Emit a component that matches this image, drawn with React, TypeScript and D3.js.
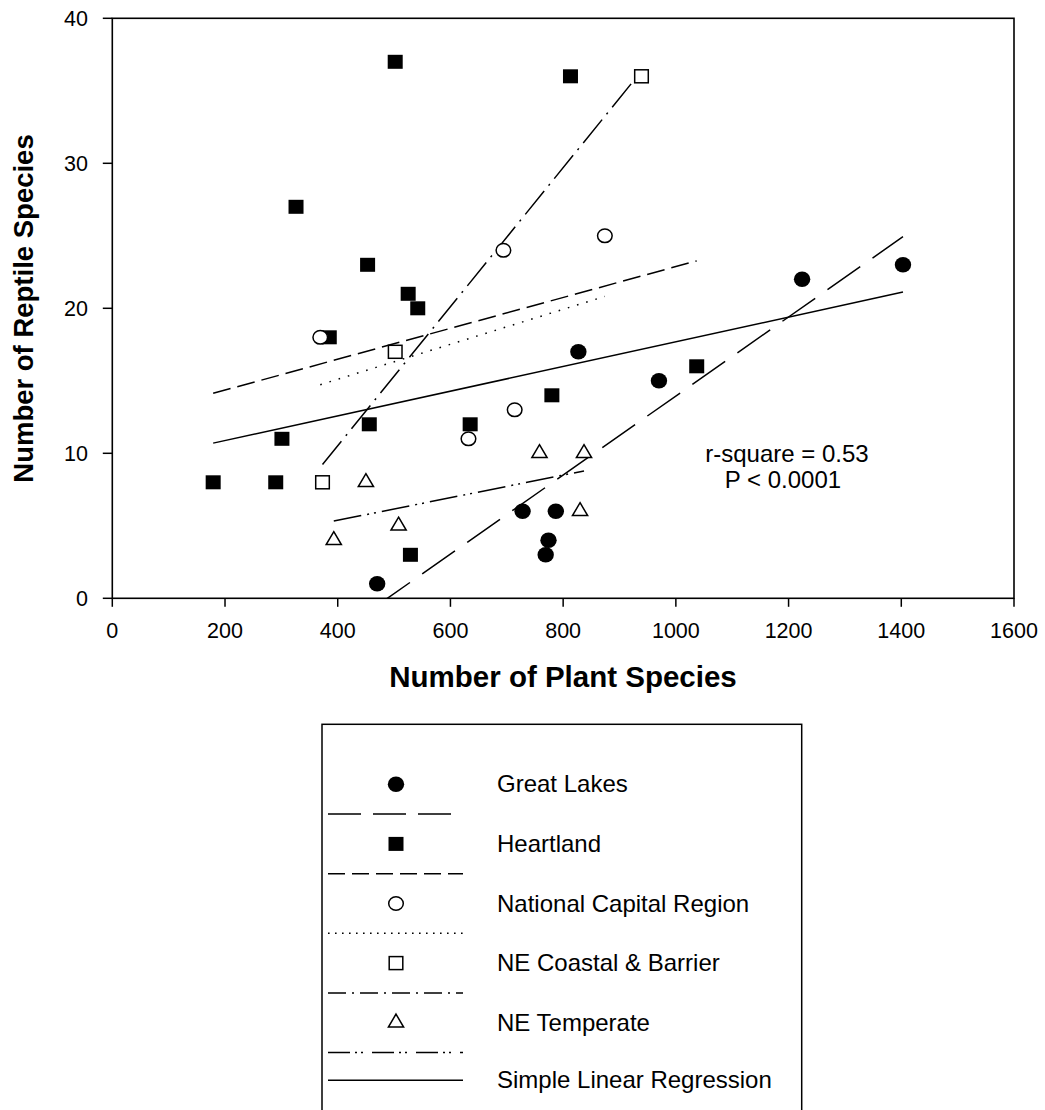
import React from "react";
import * as d3 from "d3";

type Pt = [number, number];

// Data (plants, reptiles) per region
const greatLakes: Pt[] = [
  [470, 1], [728, 6], [787, 6], [774, 4], [769, 3], [827, 17], [970, 15], [1224, 22], [1403, 23],
];
const heartland: Pt[] = [
  [502, 37], [326, 27], [453, 23], [525, 21], [542, 20], [385, 18], [456, 12], [301, 11],
  [179, 8], [290, 8], [529, 3], [635, 12], [780, 14], [1037, 16], [813, 36],
];
const nationalCapital: Pt[] = [
  [369, 18], [632, 11], [714, 13], [694, 24], [874, 25],
];
const neCoastal: Pt[] = [
  [373, 8], [502, 17], [939, 36],
];
const neTemperate: Pt[] = [
  [393, 4], [450, 8], [508, 5], [758, 10], [837, 10], [830, 6],
];

const seriesNames = [
  "Great Lakes",
  "Heartland",
  "National Capital Region",
  "NE Coastal & Barrier",
  "NE Temperate",
];
const overallName = "Simple Linear Regression";

const xTicks = [0, 200, 400, 600, 800, 1000, 1200, 1400, 1600];
const yTicks = [0, 10, 20, 30, 40];
const annotation = ["r-square = 0.53", "P < 0.0001"];

const FONT = "'Liberation Sans', Arial, Helvetica, sans-serif";

const x = d3.scaleLinear().domain([0, 1600]).range([112.3, 1014]);
const y = d3.scaleLinear().domain([0, 40]).range([598.3, 18.3]);

type MarkerKind = "filledCircle" | "filledSquare" | "openCircle" | "openSquare" | "openTriangle";

const styles: { data: Pt[]; marker: MarkerKind; dash: string; legendDash: string }[] = [
  { data: greatLakes, marker: "filledCircle", dash: "40,15", legendDash: "33,12" },
  { data: heartland, marker: "filledSquare", dash: "18,7", legendDash: "17,7" },
  { data: nationalCapital, marker: "openCircle", dash: "1.6,8", legendDash: "1.6,5.4" },
  { data: neCoastal, marker: "openSquare", dash: "30,7,2,7", legendDash: "18,6,2,6" },
  { data: neTemperate, marker: "openTriangle", dash: "28,6,2,5,2,6", legendDash: "22,5,2,4,2,9" },
];

function regression(pts: Pt[]) {
  const mx = d3.mean(pts, (p) => p[0]) as number;
  const my = d3.mean(pts, (p) => p[1]) as number;
  let sxy = 0;
  let sxx = 0;
  for (const p of pts) {
    sxy += (p[0] - mx) * (p[1] - my);
    sxx += (p[0] - mx) * (p[0] - mx);
  }
  const b = sxy / sxx;
  const a = my - b * mx;
  const [x0, x1] = d3.extent(pts, (p) => p[0]) as [number, number];
  return [
    [x0, a + b * x0],
    [x1, a + b * x1],
  ] as Pt[];
}

function Marker({ kind, cx, cy }: { kind: MarkerKind; cx: number; cy: number }) {
  switch (kind) {
    case "filledCircle":
      return <ellipse cx={cx} cy={cy} rx={8.2} ry={7.8} fill="#000" />;
    case "filledSquare":
      return <rect x={cx - 7.5} y={cy - 7} width={15} height={14} fill="#000" />;
    case "openCircle":
      return <ellipse cx={cx} cy={cy} rx={7.3} ry={6.8} fill="#fff" stroke="#000" strokeWidth={1.5} />;
    case "openSquare":
      return (
        <rect x={cx - 6.8} y={cy - 6.5} width={13.6} height={13} fill="#fff" stroke="#000" strokeWidth={1.5} />
      );
    case "openTriangle":
      return (
        <path
          d={`M${cx},${cy - 8.6}L${cx + 7.6},${cy + 4.3}L${cx - 7.6},${cy + 4.3}Z`}
          fill="#fff"
          stroke="#000"
          strokeWidth={1.5}
          strokeLinejoin="miter"
        />
      );
  }
}

export default function App() {
  const line = d3
    .line<Pt>()
    .x((d) => x(d[0]))
    .y((d) => y(d[1]));
  const allPts: Pt[] = styles.flatMap((s) => s.data);
  const overall = regression(allPts);

  const legendTop = 784.3;
  const rowGap = 29.8;
  const legendRows: { kind: "marker" | "line"; i: number }[] = [];

  return (
    <svg
      width={1045}
      height={1110}
      style={{ position: "absolute", left: 0, top: 0, background: "#fff" }}
      fontFamily={FONT}
    >
      <defs>
        <clipPath id="plotClip">
          <rect x={x(0)} y={y(40)} width={x(1600) - x(0)} height={y(0) - y(40)} />
        </clipPath>
      </defs>
      <rect width={1045} height={1110} fill="#fff" />

      {/* frame */}
      <rect
        x={x(0)}
        y={y(40)}
        width={x(1600) - x(0)}
        height={y(0) - y(40)}
        fill="none"
        stroke="#000"
        strokeWidth={1.6}
      />

      {/* x ticks */}
      {xTicks.map((t) => (
        <g key={"xt" + t}>
          <line x1={x(t)} x2={x(t)} y1={y(0)} y2={y(0) + 8.5} stroke="#000" strokeWidth={1.5} />
          <text x={x(t)} y={638} textAnchor="middle" fontSize={21.5} fill="#000">
            {t}
          </text>
        </g>
      ))}
      {/* y ticks */}
      {yTicks.map((t) => (
        <g key={"yt" + t}>
          <line x1={x(0) - 9.5} x2={x(0)} y1={y(t)} y2={y(t)} stroke="#000" strokeWidth={1.5} />
          <text x={88} y={y(t) + 7.6} textAnchor="end" fontSize={21.5} fill="#000">
            {t}
          </text>
        </g>
      ))}

      {/* axis titles */}
      <text x={563} y={687} textAnchor="middle" fontSize={29.5} fontWeight="bold" fill="#000">
        Number of Plant Species
      </text>
      <text
        transform="translate(33,308.5) rotate(-90)"
        textAnchor="middle"
        fontSize={27.5}
        fontWeight="bold"
        fill="#000"
      >
        Number of Reptile Species
      </text>

      {/* regression lines */}
      <g clipPath="url(#plotClip)" fill="none" stroke="#000" strokeWidth={1.5}>
        {styles.map((s, i) => (
          <path key={"rl" + i} d={line(regression(s.data)) || ""} strokeDasharray={s.dash} />
        ))}
        <path d={line(overall) || ""} />
      </g>

      {/* points */}
      {styles.map((s, i) => (
        <g key={"pts" + i}>
          {s.data.map((p, j) => (
            <Marker key={j} kind={s.marker} cx={x(p[0])} cy={y(p[1])} />
          ))}
        </g>
      ))}

      {/* annotation */}
      <text x={787} y={462.3} textAnchor="middle" fontSize={24} fill="#000">
        {annotation[0]}
      </text>
      <text x={783} y={487.7} textAnchor="middle" fontSize={24} fill="#000">
        {annotation[1]}
      </text>

      {/* legend */}
      <rect x={322} y={724.3} width={801.7 - 322} height={420} fill="#fff" stroke="#000" strokeWidth={1.5} />
      {styles.map((s, i) => {
        const ym = legendTop + rowGap * 2 * i;
        const yl = ym + rowGap;
        return (
          <g key={"lg" + i}>
            <Marker kind={s.marker} cx={396} cy={ym} />
            <text x={497} y={ym + 8} fontSize={24} fill="#000">
              {seriesNames[i]}
            </text>
            <line x1={328} x2={463} y1={yl} y2={yl} stroke="#000" strokeWidth={1.5} strokeDasharray={s.legendDash} />
          </g>
        );
      })}
      {(() => {
        const yl = legendTop + rowGap * 10;
        return (
          <g>
            <line x1={328} x2={463} y1={yl - 2} y2={yl - 2} stroke="#000" strokeWidth={1.5} />
            <text x={497} y={yl + 6} fontSize={24} fill="#000">
              {overallName}
            </text>
          </g>
        );
      })()}
      {legendRows.length > 0 ? null : null}
    </svg>
  );
}
